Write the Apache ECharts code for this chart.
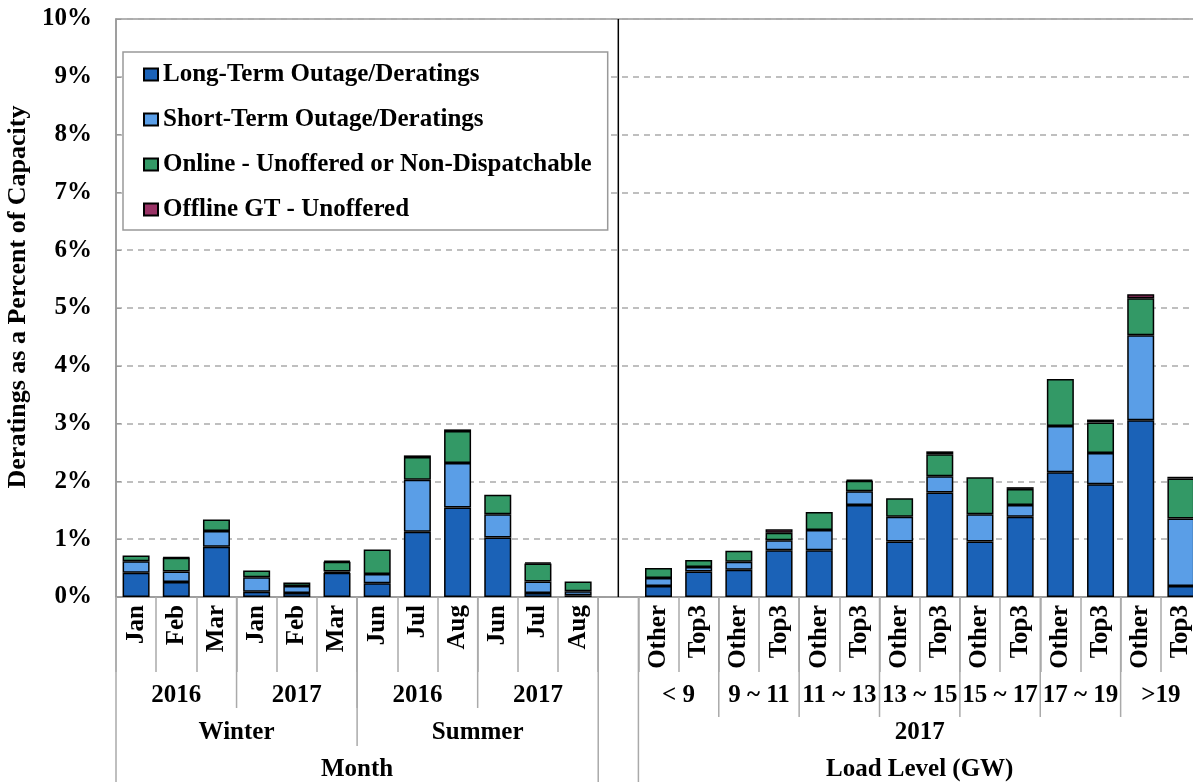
<!DOCTYPE html>
<html>
<head>
<meta charset="utf-8">
<script src="https://cdn.jsdelivr.net/npm/echarts@6/dist/echarts.min.js"></script>
<style>
  html, body { margin: 0; padding: 0; background: #fff; }
  #main { width: 1193px; height: 782px; }
</style>
</head>
<body>
<div id="main"></div>
<script>
// categories (index 12 is the empty gap between the two panels)
var categories = ['Jan', 'Feb', 'Mar', 'Jan', 'Feb', 'Mar', 'Jun', 'Jul', 'Aug', 'Jun', 'Jul', 'Aug', '',
  'Other', 'Top3', 'Other', 'Top3', 'Other', 'Top3', 'Other', 'Top3', 'Other', 'Top3', 'Other', 'Top3', 'Other', 'Top3'];

// values in % of capacity
var longTerm  = [0.42, 0.26, 0.87, 0.09, 0.07, 0.42, 0.24, 1.13, 1.55, 1.03, 0.07, 0.03, null,
  0.19, 0.44, 0.47, 0.81, 0.81, 1.59, 0.96, 1.81, 0.96, 1.39, 2.16, 1.95, 3.06, 0.19];
var shortTerm = [0.20, 0.18, 0.27, 0.25, 0.12, 0.02, 0.16, 0.90, 0.77, 0.40, 0.20, 0.07, null,
  0.14, 0.08, 0.14, 0.17, 0.35, 0.24, 0.43, 0.28, 0.47, 0.20, 0.80, 0.54, 1.47, 1.17];
var online    = [0.10, 0.24, 0.20, 0.12, 0.06, 0.17, 0.42, 0.39, 0.55, 0.34, 0.31, 0.17, null,
  0.17, 0.12, 0.19, 0.13, 0.31, 0.18, 0.32, 0.38, 0.64, 0.28, 0.81, 0.53, 0.64, 0.69];
var offlineGT = [0, 0.01, 0, 0, 0, 0.02, 0, 0.03, 0.03, 0, 0.02, 0, null,
  0, 0, 0, 0.06, 0, 0.02, 0, 0.05, 0, 0.03, 0, 0.05, 0.07, 0.03];

// group labels under the axis
var yearLabels = ['2016', '2017', '2016', '2017'];          // 3 months each, starting at 0
var seasonLabels = ['Winter', 'Summer'];                     // 6 months each, starting at 0
var loadLabels = ['< 9', '9 ~ 11', '11 ~ 13', '13 ~ 15', '15 ~ 17', '17 ~ 19', '>19']; // 2 each, starting at 13
var yTicks = [0, 1, 2, 3, 4, 5, 6, 7, 8, 9, 10];

var FONT = '"Liberation Serif", "Times New Roman", serif';

function toBars(arr) {
  return arr.map(function (v) { return v === 0 ? '-' : v; });
}

var chartDom = document.getElementById('main');
var myChart = echarts.init(chartDom);

var seriesDefs = [
  { name: 'Long-Term Outage/Deratings', data: longTerm, color: '#1B62B7' },
  { name: 'Short-Term Outage/Deratings', data: shortTerm, color: '#5A9EE7' },
  { name: 'Online - Unoffered or Non-Dispatchable', data: online, color: '#339966' },
  { name: 'Offline GT - Unoffered', data: offlineGT, color: '#993366' }
];

var option = {
  animation: false,
  backgroundColor: '#fff',
  grid: {
    left: 116, top: 19, right: -8, bottom: 185,
    outerBoundsMode: 'none',
    containLabel: false,
    show: true, borderColor: '#999', borderWidth: 1.5
  },
  legend: {
    left: 123, top: 52,
    orient: 'vertical',
    selectedMode: false,
    icon: 'rect',
    backgroundColor: '#fff',
    borderColor: '#999', borderWidth: 1.5,
    padding: [9, 16, 7, 20],
    itemGap: 18,
    itemWidth: 14, itemHeight: 12,
    textStyle: { fontFamily: FONT, fontWeight: 'bold', fontSize: 25, color: '#000', lineHeight: 27 }
  },
  xAxis: {
    type: 'category',
    data: categories,
    axisLine: { lineStyle: { color: '#999', width: 1.5 } },
    axisTick: { show: true, interval: 0, length: 75, lineStyle: { color: '#aaa', width: 1.5 } },
    axisLabel: {
      interval: 0, rotate: 90, margin: 8,
      fontFamily: FONT, fontWeight: 'bold', fontSize: 25, color: '#000'
    },
    splitLine: { show: false }
  },
  yAxis: {
    type: 'value',
    min: 0, max: 10, interval: 1,
    name: 'Deratings as a Percent of Capacity',
    nameLocation: 'middle',
    nameGap: 66,
    nameTextStyle: { fontFamily: FONT, fontWeight: 'bold', fontSize: 26, color: '#000', padding: [0, 0, 0, 22] },
    axisLine: { show: true, lineStyle: { color: '#999', width: 1.5 } },
    axisTick: { show: true, inside: true, length: 5, lineStyle: { color: '#999' } },
    axisLabel: {
      margin: 24,
      formatter: function (v) { return yTicks.indexOf(v) >= 0 ? v + '%' : ''; },
      fontFamily: FONT, fontWeight: 'bold', fontSize: 25, color: '#000'
    },
    splitLine: { show: true, lineStyle: { color: '#aaa', width: 1.5, type: [6, 5] } }
  },
  series: seriesDefs.map(function (s) {
    return {
      name: s.name,
      type: 'bar',
      stack: 'total',
      barWidth: 27,
      data: toBars(s.data),
      itemStyle: { color: s.color, borderColor: '#000', borderWidth: 1.5 },
      emphasis: { disabled: true }
    };
  })
};
myChart.setOption(option);

// multi-level category labels and separators
function cx(i) { return myChart.convertToPixel({ xAxisIndex: 0 }, i); }
var slot = cx(1) - cx(0);
function edge(i) { return cx(i) - slot / 2; }
var y0 = myChart.convertToPixel({ yAxisIndex: 0 }, 0);
var yTop = myChart.convertToPixel({ yAxisIndex: 0 }, 10);

var g = [];
function vline(x, y1, y2, color, w) {
  g.push({ type: 'line', shape: { x1: x, y1: y1, x2: x, y2: y2 }, style: { stroke: color, lineWidth: w }, z: 10 });
}
function label(text, x, y, size) {
  g.push({ type: 'text', x: x, y: y, z: 10,
    style: { text: text, font: 'bold ' + size + 'px ' + FONT, fill: '#000', align: 'center', verticalAlign: 'middle' } });
}

var grey = '#aaa';
// panel separator inside the plot
vline(cx(12), yTop, y0, '#000', 1.5);
// outer panel edges
vline(edge(0), y0, 782, grey, 1.5);
vline(edge(12), y0, 782, grey, 1.5);
vline(edge(13), y0, 782, grey, 1.5);
// year / season (left panel)
yearLabels.forEach(function (t, k) {
  var a = k * 3;
  label(t, (edge(a) + edge(a + 3)) / 2, 696, 25);
  if (k > 0) vline(edge(a), y0, 708, grey, 1.5);
});
seasonLabels.forEach(function (t, k) {
  var a = k * 6;
  label(t, (edge(a) + edge(a + 6)) / 2, 733, 25);
  if (k > 0) vline(edge(a), y0, 746, grey, 1.5);
});
label('Month', (edge(0) + edge(12)) / 2, 770, 25);
// load level (right panel)
loadLabels.forEach(function (t, k) {
  var a = 13 + k * 2;
  label(t, (edge(a) + edge(a + 2)) / 2, 696, 25);
  if (k > 0) vline(edge(a), y0, 717, grey, 1.5);
});
label('2017', (edge(13) + edge(27)) / 2, 733, 25);
label('Load Level (GW)', (edge(13) + edge(27)) / 2, 770, 25);

myChart.setOption({ graphic: g });
</script>
</body>
</html>
